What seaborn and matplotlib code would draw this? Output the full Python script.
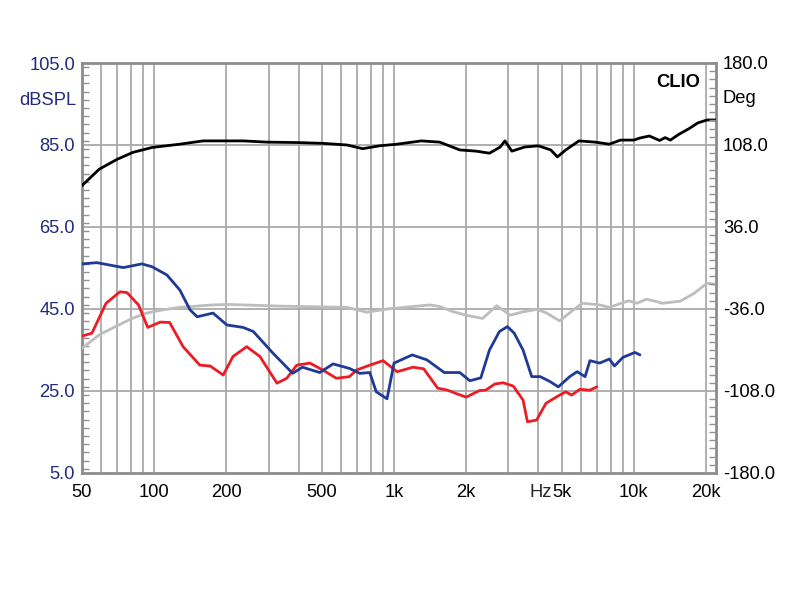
import numpy as np
import pandas as pd
import matplotlib
matplotlib.use("Agg")
import matplotlib.pyplot as plt
import matplotlib.transforms as mtransforms
from matplotlib.ticker import FixedLocator, MultipleLocator, NullFormatter
import seaborn as sns

# ---------------- data ----------------
spl_f = [50, 59, 70, 81.5, 98, 128, 160, 201, 235, 295, 393, 505, 637, 740, 870, 1030,
         1300, 1550, 1880, 2200, 2500, 2770, 2900, 3100, 3500, 4000, 4500, 4800, 5200,
         5900, 6900, 7900, 8800, 10000, 10600, 11600, 12800, 13500, 14200, 15400, 17000,
         18500, 20200, 22000]
spl_db = [75.1, 79.1, 81.5, 83.2, 84.4, 85.2, 86.0, 86.0, 86.0, 85.7, 85.6, 85.4, 85.0, 84.1,
          84.8, 85.2, 86.0, 85.7, 83.8, 83.5, 83.0, 84.5, 86.0, 83.5, 84.5, 84.8, 83.8,
          82.1, 83.8, 86.0, 85.7, 85.2, 86.2, 86.2, 86.7, 87.2, 86.1, 86.8, 86.2, 87.6,
          89.0, 90.4, 91.1, 91.1]

grey_f = [50, 59, 70, 81, 93, 109, 128, 176, 207, 334, 637, 770, 935, 1200, 1410, 1550,
          1770, 2030, 2340, 2680, 3050, 3450, 3930, 4300, 4900, 5600, 6100, 7200, 7900,
          9500, 10300, 11300, 13200, 15600, 17800, 20200, 22000]
grey_db = [35.4, 38.7, 40.9, 42.7, 44.0, 44.8, 45.4, 46.0, 46.1, 45.7, 45.4, 44.2, 45.0,
           45.6, 46.0, 45.6, 44.3, 43.4, 42.7, 45.8, 43.5, 44.3, 44.9, 44.1, 42.1, 44.8,
           46.4, 46.0, 45.4, 47.0, 46.4, 47.4, 46.4, 46.9, 48.8, 51.3, 51.0]

h2_f = [50, 57.6, 74.3, 88.9, 98, 113, 128, 141, 151, 176, 201, 235, 259, 313, 378, 415,
        490, 557, 652, 720, 792, 843, 935, 1000, 1190, 1370, 1620, 1880, 2070, 2300, 2500,
        2750, 2970, 3170, 3450, 3750, 4070, 4470, 4840, 5400, 5800, 6260, 6560, 7200,
        7900, 8300, 9000, 10100, 10600]
h2_db = [56.0, 56.3, 55.1, 56.0, 55.3, 53.3, 49.6, 44.8, 43.1, 44.0, 41.1, 40.5, 39.5,
         34.2, 29.3, 30.8, 29.5, 31.6, 30.5, 29.3, 29.5, 24.8, 23.1, 31.8, 33.8, 32.6,
         29.5, 29.5, 27.5, 28.2, 35.0, 39.5, 40.7, 39.1, 35.0, 28.5, 28.5, 27.3, 26.0,
         28.5, 29.7, 28.5, 32.4, 31.8, 32.8, 31.1, 33.2, 34.4, 33.8]

h3_f = [50, 55, 63, 72, 77, 86, 94, 106, 116, 132, 155, 171, 194, 213, 243, 276, 325,
        357, 393, 446, 505, 575, 652, 697, 792, 900, 1030, 1200, 1330, 1520, 1670, 1830,
        2000, 2270, 2410, 2630, 2850, 3140, 3450, 3600, 3930, 4300, 4770, 5200, 5500,
        5950, 6560, 7000]
h3_db = [38.4, 39.1, 46.4, 49.2, 49.0, 46.0, 40.5, 41.8, 41.7, 35.8, 31.3, 31.1, 28.9,
         33.4, 35.8, 33.4, 26.9, 28.1, 31.3, 31.8, 30.1, 28.1, 28.5, 30.1, 31.3, 32.4,
         29.7, 30.8, 30.4, 25.7, 25.2, 24.3, 23.5, 25.1, 25.2, 26.7, 27.0, 26.2, 22.8,
         17.5, 17.9, 22.0, 23.6, 24.8, 24.0, 25.4, 25.2, 26.0]

x_ticks = [50, 100, 200, 500, 1000, 2000, 5000, 10000, 20000]
x_labels = ["50", "100", "200", "500", "1k", "2k", "5k", "10k", "20k"]
x_grid = [60, 70, 80, 90, 300, 400, 600, 700, 800, 900, 3000, 4000, 6000, 7000, 8000, 9000]
db_ticks = [5, 25, 45, 65, 85, 105]
deg_ticks = [-180, -108, -36, 36, 108, 180]

# ---------------- build table ----------------
frames = []
for name, f, v in [("spl", spl_f, spl_db), ("grey", grey_f, grey_db),
                   ("h2", h2_f, h2_db), ("h3", h3_f, h3_db)]:
    frames.append(pd.DataFrame({"f": f, "db": v, "series": name, "order": range(len(f))}))
df = pd.concat(frames, ignore_index=True)

palette = {"spl": "#000000", "grey": "#bdbdbd", "h2": "#1f3a96", "h3": "#ec1c24"}

sns.set_style("white")
plt.rcParams["font.family"] = ["Liberation Sans", "DejaVu Sans"]
FS = 13.2

fig = plt.figure(figsize=(8, 6), dpi=100)
ax = fig.add_axes([0.1025, 0.2117, 0.7925, 0.6833])

grid_c = "#a9a9a9"
ax.set_xscale("log")
ax.set_xlim(50, 22000)
ax.set_ylim(5, 105)

for g in x_grid + x_ticks[1:]:
    ax.axvline(g, color=grid_c, lw=1.3, zorder=0)
for g in db_ticks[1:-1]:
    ax.axhline(g, color=grid_c, lw=1.3, zorder=0)

hue_order = ["grey", "h3", "h2", "spl"]
for s in hue_order:
    sub = df[df.series == s]
    sns.lineplot(data=sub, x="f", y="db", color=palette[s], sort=False,
                 estimator=None, lw=2.0, ax=ax, legend=False, zorder=3)

ax.set_xlabel("")
ax.set_ylabel("")

ax.xaxis.set_major_locator(FixedLocator(x_ticks))
ax.xaxis.set_minor_locator(FixedLocator([]))
ax.set_xticklabels(x_labels)
ax.xaxis.set_minor_formatter(NullFormatter())
ax.tick_params(axis="x", which="both", length=0, pad=8, labelsize=FS, labelcolor="#000000")

ax.yaxis.set_major_locator(FixedLocator(db_ticks))
ax.set_yticklabels([f"{t:.1f}" for t in db_ticks])
ax.yaxis.set_minor_locator(MultipleLocator(2))
ax.tick_params(axis="y", which="major", length=0, pad=5, labelsize=FS, labelcolor="#232b7a")
ax.tick_params(axis="y", which="minor", direction="in", length=5, color="#909090", width=1)

for sp in ax.spines.values():
    sp.set_color("#8c8c8c")
    sp.set_linewidth(2)

ax2 = ax.twinx()
ax2.set_ylim(-180, 180)
ax2.yaxis.set_major_locator(FixedLocator(deg_ticks))
ax2.set_yticklabels([f"{t:.1f}" for t in deg_ticks])
ax2.yaxis.set_minor_locator(MultipleLocator(7.2))
ax2.tick_params(axis="y", which="major", length=0, pad=5, labelsize=FS, labelcolor="#000000")
ax2.tick_params(axis="y", which="minor", direction="in", length=5, color="#909090", width=1)
for sp in ax2.spines.values():
    sp.set_visible(False)

# axis captions
ax.text(-0.009, 0.908, "dBSPL", transform=ax.transAxes, ha="right",
        va="center", fontsize=FS, color="#232b7a")
ax.text(1.011, 0.913, "Deg", transform=ax.transAxes, ha="left",
        va="center", fontsize=FS, color="#000000")
ax.text(0.975, 0.972, "CLIO", transform=ax.transAxes, ha="right", va="top",
        fontsize=FS, fontweight="bold", color="#000000")

trans = mtransforms.blended_transform_factory(ax.transData, ax.transAxes)
ax.annotate("Hz", xy=(5000, 0), xycoords=trans, xytext=(-6.8, -8),
            textcoords="offset points", ha="right", va="top", fontsize=FS)

fig.savefig("out.png", dpi=100, facecolor="white")
